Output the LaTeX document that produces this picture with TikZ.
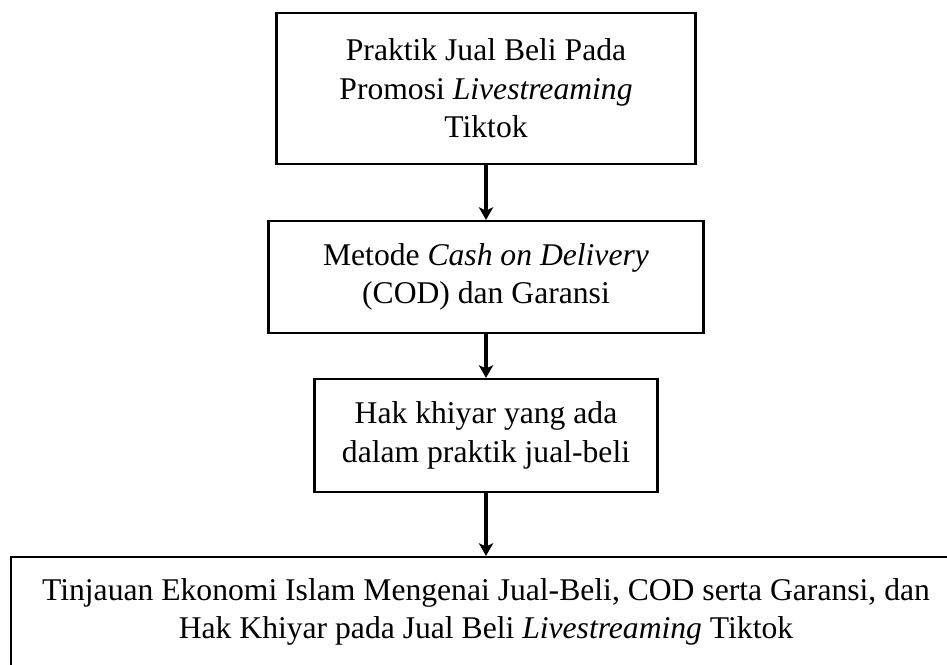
\documentclass[tikz,border=0pt]{standalone}
\usepackage{fontspec}
\setmainfont{Liberation Serif}
\usepackage{tikz}
\usetikzlibrary{arrows.meta}

\tikzset{
  box/.style={draw, line width=0.8pt, align=center, inner sep=0pt,
    font=\fontsize{11.5}{14}\selectfont},
  flow/.style={-{Stealth[length=4.6pt,width=5.2pt,inset=1.2pt]}, line width=1.2pt}
}

\begin{document}
\begin{tikzpicture}[x=0.3636pt, y=-0.3636pt]
      \useasboundingbox (0, 0) rectangle (947, 664);
      \clip (0, 0) rectangle (947, 664);

      \node[box, minimum width=152.4pt, minimum height=54.9pt] (praktik) at (486, 88.5)
        {Praktik Jual Beli Pada\\ Promosi \textit{Livestreaming}\\ Tiktok};
      \node[box, minimum width=158.2pt, minimum height=40.7pt] (metode) at (486, 277)
        {Metode \textit{Cash on Delivery}\\ (COD) dan Garansi};
      \node[box, minimum width=124.7pt, minimum height=41.1pt] (khiyar) at (486, 435.5)
        {Hak khiyar yang ada\\ dalam praktik jual-beli};
      \node[box, minimum width=345.4pt, minimum height=40pt] (tinjauan) at (486, 612)
        {Tinjauan Ekonomi Islam Mengenai Jual-Beli, COD serta Garansi, dan\\
         Hak Khiyar pada Jual Beli \textit{Livestreaming} Tiktok};

      \draw [flow] (praktik) -- (metode);
      \draw [flow] (metode) -- (khiyar);
      \draw [flow] (khiyar) -- (tinjauan);
    \end{tikzpicture}
\end{document}
